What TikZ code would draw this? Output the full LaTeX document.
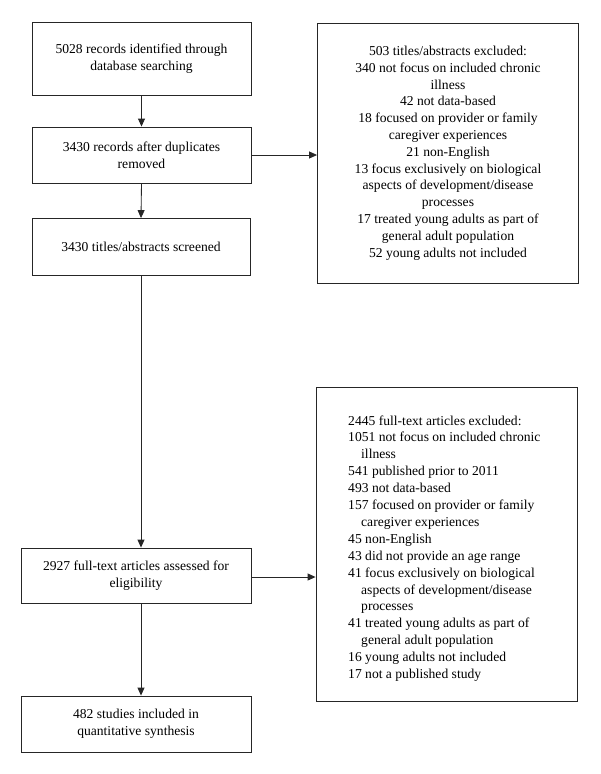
\documentclass[tikz,border=0pt]{standalone}
\usepackage{fontspec}
\setmainfont{Liberation Serif}
\usetikzlibrary{arrows.meta,calc}
\begin{document}
\begin{tikzpicture}[x=1pt,y=-1pt,
  box/.style={draw=black!85,line width=0.85pt,rectangle,inner sep=0pt,font=\fontsize{13.6}{16.8}\selectfont,align=center},
  txt/.style={inner sep=0pt,font=\fontsize{13.6}{16.9}\selectfont},
  arr/.style={draw=black!85,line width=0.85pt,-{Triangle[length=8pt,width=7pt]}}]
\useasboundingbox (0,0) rectangle (600,774);
\node[box,minimum width=219pt,minimum height=73pt] (b1) at (141.5,58.5) {5028 records identified through\\database searching};
\node[box,minimum width=219pt,minimum height=56pt] (b2) at (141.5,155) {3430 records after duplicates\\removed};
\node[box,minimum width=218pt,minimum height=57pt] (b3) at (141,247) {3430 titles/abstracts screened};
\node[box,minimum width=230pt,minimum height=55pt] (b4) at (136,575.5) {2927 full-text articles assessed for\\eligibility};
\node[box,minimum width=230pt,minimum height=56pt] (b5) at (136,724) {482 studies included in\\quantitative synthesis};
\node[box,minimum width=261pt,minimum height=260pt] (r1) at (448,153) {503 titles/abstracts excluded:\\340 not focus on included chronic\\illness\\42 not data-based\\18 focused on provider or family\\caregiver experiences\\21 non-English\\13 focus exclusively on biological\\aspects of development/disease\\processes\\17 treated young adults as part of\\general adult population\\52 young adults not included};
\node[box,minimum width=261pt,minimum height=314pt] (r2) at (446.5,544) {};
\node[txt,align=left,anchor=west] (r2t) at (348,548.5) {2445 full-text articles excluded:\\1051 not focus on included chronic\\\hspace*{13pt}illness\\541 published prior to 2011\\493 not data-based\\157 focused on provider or family\\\hspace*{13pt}caregiver experiences\\45 non-English\\43 did not provide an age range\\41 focus exclusively on biological\\\hspace*{13pt}aspects of development/disease\\\hspace*{13pt}processes\\41 treated young adults as part of\\\hspace*{13pt}general adult population\\16 young adults not included\\17 not a published study};
\draw[arr] (b1.south) -- (b2.north);
\draw[arr] (b2.south) -- (b3.north);
\draw[arr] (b3.south) -- (b3.south |- b4.north);
\draw[arr] (b3.south |- b4.south) -- (b3.south |- b5.north);
\draw[arr] (b2.east) -- (b2.east -| r1.west);
\draw[arr] ($(b4.east)+(0,1.5)$) -- ($(b4.east -| r2.west)+(0,1.5)$);
\end{tikzpicture}
\end{document}
